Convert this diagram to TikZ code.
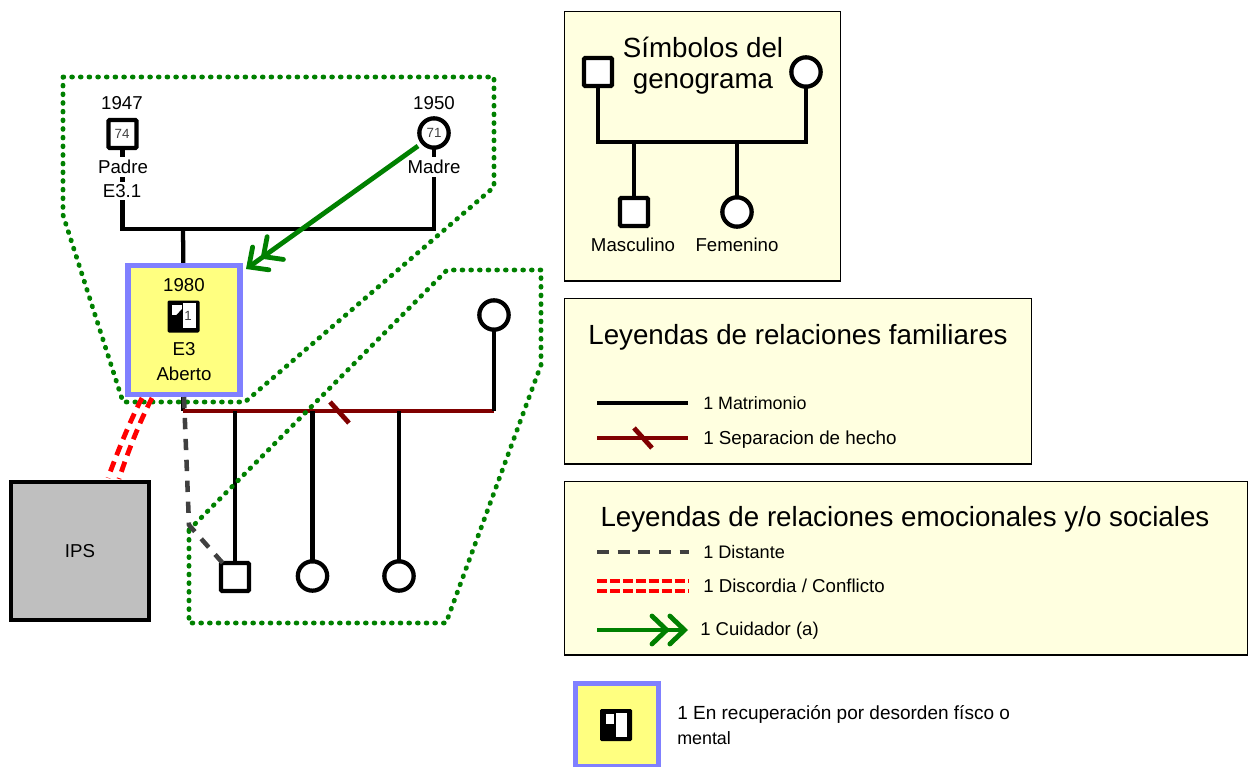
\documentclass[tikz,border=0pt]{standalone}
\usepackage{fontspec}
\setmainfont{Liberation Sans}
\usetikzlibrary{arrows.meta,backgrounds}
\definecolor{pfill}{HTML}{FFFFE0}
\definecolor{gdot}{HTML}{008000}
\definecolor{dred}{HTML}{800000}
\definecolor{ygfill}{HTML}{FFFF80}
\definecolor{blborder}{HTML}{8080FF}
\definecolor{dgray}{HTML}{404040}
\tikzset{
  sq/.style={draw=black,fill=white,line width=3.2pt,minimum size=21pt,inner sep=0pt,rounded corners=0.8pt,outer sep=0pt},
  ci/.style={draw=black,fill=white,line width=3.2pt,circle,minimum size=22pt,inner sep=0pt,outer sep=0pt},
  txt/.style={inner sep=0pt,font=\fontsize{14}{16}\selectfont},
  wtxt/.style={txt,fill=white,inner ysep=2pt},
  ltxt/.style={inner sep=0pt,anchor=base west,font=\fontsize{#1}{16}\selectfont},
  ltxt/.default=13.4,
  ttl/.style={inner sep=0pt,anchor=base,font=\fontsize{20.8}{24}\selectfont},
  num/.style={inner sep=0pt,text=dgray,font=\fontsize{10}{10}\selectfont},
  panel/.style={draw=black,fill=pfill,line width=1.1pt},
  rel/.style={draw=black,line width=3.2pt},
  sep/.style={draw=dred,line width=3.6pt},
  dist/.style={draw=dgray,line width=3.4pt,dash pattern=on 8.5pt off 7.2pt},
  conf/.style={draw=red,line width=3.6pt,dash pattern=on 7.5pt off 2.2pt},
  conflong/.style={draw=red,line width=3.6pt,dash pattern=on 8pt off 5pt},
  dotline/.style={draw=gdot,line width=3.6pt,dash pattern=on 0.6pt off 5.9pt,line cap=round},
  care/.style={draw=gdot,line width=3.6pt,-{Straight Barb[length=11pt,width=21pt,sep=-2pt,line cap=round]Straight Barb[length=11pt,width=21pt,line cap=round]}},
  ybox/.style={draw=blborder,fill=ygfill,line width=3.8pt},
  ipsbox/.style={draw=black,fill=black!25,line width=3pt},
  blk/.style={fill=black,rounded corners=1pt,minimum size=24pt,inner sep=0pt},
  whi/.style={fill=white,inner sep=0pt},
}
\begin{document}
\begin{tikzpicture}[x=0.75pt,y=-0.75pt]
\useasboundingbox (0,0) rectangle (1249,767);
% panels
\node[panel,minimum width=207pt,minimum height=202pt,anchor=north west,inner sep=0pt] (p1) at (564,11) {};
\node[panel,minimum width=350pt,minimum height=124pt,anchor=north west,inner sep=0pt] (p2) at (564,298) {};
\node[panel,minimum width=512pt,minimum height=130pt,anchor=north west,inner sep=0pt] (p3) at (564,481) {};
% main: people
\node[sq] (father) at (122.5,134) {};
\node[num] (f74) at (122,134) {74};
\node[ci] (mother) at (434,133) {};
\node[num] (m71) at (434,133) {71};
\node[txt] (y47) at (122,103) {1947};
\node[txt] (y50) at (434,103) {1950};
\coordinate (fcorner) at (122.5,229);
\coordinate (mcorner) at (434,229);
\coordinate (mar) at (183,229);
\node[ybox,minimum width=84pt,minimum height=97pt,inner sep=0pt] (ego) at (184,330) {};
\node[txt] (y80) at (184,285) {1980};
\node[blk] (egosym) at (183.5,316.5) {};
\node[whi,minimum width=7.5pt,minimum height=7.5pt] (egow1) at (177,310) {};
\coordinate (egon1) at (182,309); \coordinate (egon2) at (182,315.5); \coordinate (egon3) at (176,315.5);
\fill[black] (egon1) -- (egon2) -- (egon3) -- cycle;
\node[whi,minimum width=9.5pt,minimum height=18.5pt] (egow2) at (189.5,315.5) {};
\node[num] (egon) at (188,316) {1};
\node[txt] (e3) at (184,349) {E3};
\node[txt] (ab) at (184,374) {Aberto};
\node[ipsbox,minimum width=104pt,minimum height=104pt,inner sep=0pt] (ips) at (80,551) {};
\node[txt] (ipst) at (80,551) {IPS};
\node[ci] (wife) at (494,315) {};
\coordinate (wcorner) at (494,411);
\coordinate (ucorner) at (183,411);
\node[sq] (c1) at (235,577) {};
\node[ci] (c2) at (312.5,576) {};
\node[ci] (c3) at (399,576) {};
\coordinate (j1) at (235,411);
\coordinate (j2) at (312.5,411);
\coordinate (j3) at (399,411);
\coordinate (s1) at (330,402);
\coordinate (s2) at (349,423);
\begin{scope}[on background layer]
\draw[rel,line join=miter] (father) -- (fcorner) -- (mcorner) -- (mother);
\draw[rel] (mar) -- (ego);
\end{scope}
\node[wtxt] (padre) at (123,167) {Padre};
\node[wtxt] (e31) at (122,191) {E3.1};
\node[wtxt] (madre) at (434,167) {Madre};
\draw[rel] (ego.south -| ucorner) -- (ucorner);
\draw[sep,line join=miter] (ucorner) -- (wcorner);
\draw[rel] (wcorner) -- (wife);
\draw[sep] (s1) -- (s2);
\draw[rel] (j1) -- (c1);
\draw[rel] (j2) -- (c2);
\draw[rel] (j3) -- (c3);
% dotted groups
\coordinate (a1) at (63,77); \coordinate (a2) at (494,77); \coordinate (a3) at (494,187);
\coordinate (a4) at (245,402); \coordinate (a5) at (123,402); \coordinate (a6) at (63,215);
\draw[dotline] (a1)--(a2)--(a3)--(a4)--(a5)--(a6)--cycle;
\coordinate (b1) at (189,530); \coordinate (b2) at (447,270); \coordinate (b3) at (541,270);
\coordinate (b4) at (541,365); \coordinate (b5) at (446,623); \coordinate (b6) at (189,623);
\draw[dotline] (b1)--(b2)--(b3)--(b4)--(b5)--(b6)--cycle;
% relations
\coordinate (dk) at (189,525);
\draw[dist] (184,397) -- (dk) -- (c1);
\coordinate (r1a) at (142,398); \coordinate (r1b) at (108,478);
\coordinate (r2a) at (152,398); \coordinate (r2b) at (119,479);
\draw[conflong] (r1a) .. controls (133,415) and (120,445) .. (r1b);
\draw[conflong] (r2a) .. controls (143,415) and (130,445) .. (r2b);
\coordinate (ca) at (418,146);
\coordinate (cb) at (246,269);
\draw[care] (ca) -- (cb);
% panel 1
\node[ttl] (t1a) at (703,58) {Símbolos del};
\node[ttl] (t1b) at (703,89) {genograma};
\node[sq] (lsq) at (598,72) {};
\node[ci] (lci) at (806,72) {};
\coordinate (l1) at (598,142); \coordinate (l2) at (806,142);
\draw[rel,line join=miter] (lsq) -- (l1) -- (l2) -- (lci);
\node[sq] (lm) at (634,212) {};
\node[ci] (lf) at (737,212) {};
\coordinate (l3) at (634,142); \coordinate (l4) at (737,142);
\draw[rel] (l3) -- (lm);
\draw[rel] (l4) -- (lf);
\node[txt] (masc) at (633,245) {Masculino};
\node[txt] (fem) at (737,245) {Femenino};
% panel 2
\node[ttl] (t2) at (798,344) {Leyendas de relaciones familiares};
\coordinate (ma) at (597,403); \coordinate (mb) at (688,403);
\draw[rel] (ma) -- (mb);
\node[ltxt] (mt) at (703,409) {1 Matrimonio};
\coordinate (sa) at (597,438); \coordinate (sb) at (688,438);
\draw[sep] (sa) -- (sb);
\coordinate (ss1) at (634,428); \coordinate (ss2) at (652,448);
\draw[sep] (ss1) -- (ss2);
\node[ltxt=14.1] (st) at (703,444) {1 Separacion de hecho};
% panel 3
\node[ttl] (t3) at (905,526) {Leyendas de relaciones emocionales y/o sociales};
\coordinate (da) at (597,552); \coordinate (db) at (689,552);
\draw[dist,dash pattern=on 9pt off 6.5pt] (da) -- (db);
\node[ltxt=13.6] (dt) at (703,558) {1 Distante};
\coordinate (ra) at (597,581); \coordinate (rb) at (689,581);
\coordinate (rc) at (597,591); \coordinate (rd) at (689,591);
\draw[conf] (ra) -- (rb);
\draw[conf] (rc) -- (rd);
\node[ltxt=14] (rt) at (703,592) {1 Discordia / Conflicto};
\coordinate (ga) at (597,630); \coordinate (gb) at (688,630);
\draw[care] (ga) -- (gb);
\node[ltxt=13.9] (gt) at (700,635) {1 Cuidador (a)};
% bottom legend
\node[ybox,minimum width=62.5pt,minimum height=62.5pt,inner sep=0pt] (lb) at (617,725) {};
\node[blk] (lsym) at (616,725) {};
\node[whi,minimum width=6.5pt,minimum height=7.5pt] (lw1) at (610,719) {};
\node[whi,minimum width=8.5pt,minimum height=18pt] (lw2) at (621.5,725) {};
\node[ltxt=14.25] (bt1) at (677,719) {1 En recuperación por desorden físco o};
\node[ltxt] (bt2) at (677,744) {mental};
\end{tikzpicture}
\end{document}
